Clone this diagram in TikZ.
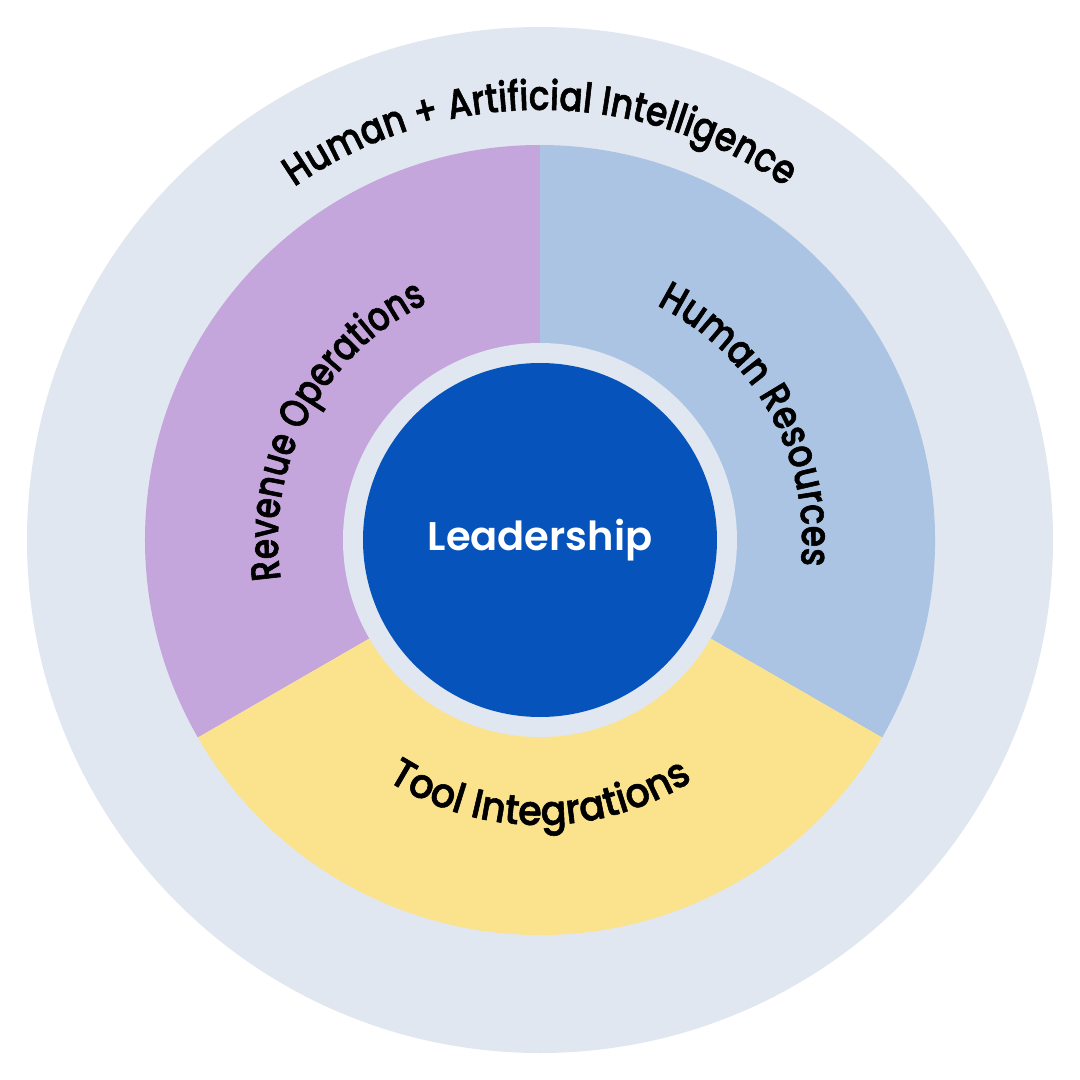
\documentclass[tikz,border=0pt]{standalone}
\usepackage{fontspec}
\IfFontExistsTF{Poppins Medium}{\def\popup{Poppins Medium}}{\def\popup{Poppins}}
\IfFontExistsTF{Poppins SemiBold}{\def\popbf{Poppins SemiBold}}{\def\popbf{Poppins Bold}}
\setmainfont{Poppins}
\newfontfamily\popHAI{\popup}[FakeStretch=0.84, FakeBold=1.4]
\newfontfamily\popRev{\popup}[FakeStretch=0.80, FakeBold=1.4]
\newfontfamily\popHR{\popup}[FakeStretch=0.84, FakeBold=1.4]
\newfontfamily\popTool{\popup}[FakeStretch=0.93, FakeBold=1.4]
\newfontfamily\popLead{\popbf}
\usetikzlibrary{decorations.text}
\definecolor{outerc}{HTML}{E1E7F0}
\definecolor{purplec}{HTML}{C4A5DC}
\definecolor{bluec}{HTML}{ABC4E4}
\definecolor{yellowc}{HTML}{FBE38E}
\definecolor{leadc}{HTML}{0654BB}
\tikzset{
  curvetext/.style={decorate, decoration={text along path, text align=center, text={#1}}},
}
\newcommand{\fs}{\fontsize{41}{48}\selectfont}
\begin{document}
\begin{tikzpicture}[x=1pt,y=1pt]
\useasboundingbox[fill=white] (-540,-540) rectangle (540,540);
\fill[outerc] (0,0) circle[radius=513];
\fill[bluec] (0,0) -- (-30:395) arc[start angle=-30,end angle=90,radius=395] -- cycle;
\fill[purplec] (0,0) -- (90:395) arc[start angle=90,end angle=210,radius=395] -- cycle;
\fill[yellowc] (0,0) -- (210:395) arc[start angle=210,end angle=330,radius=395] -- cycle;
\fill[outerc] (0,0) circle[radius=197];
\node[circle, fill=leadc, minimum size=354pt, inner sep=0pt, text=white, font=\popLead\fontsize{40}{48}\selectfont] (lead) at (0,0) {Leadership};
\path[curvetext={|\popHAI\fs|Human + Artificial Intelligence}] (160:430) arc[start angle=160,end angle=20,radius=430];
\path[curvetext={|\popRev\fs|Revenue Operations}] (232:262) arc[start angle=232,end angle=72,radius=262];
\path[curvetext={|\popHR\fs|Human Resources}] (109:262) arc[start angle=109,end angle=-51,radius=262];
\path[curvetext={|\popTool\fs|Tool Integrations}] (190:285) arc[start angle=190,end angle=350,radius=285];
\end{tikzpicture}
\end{document}
